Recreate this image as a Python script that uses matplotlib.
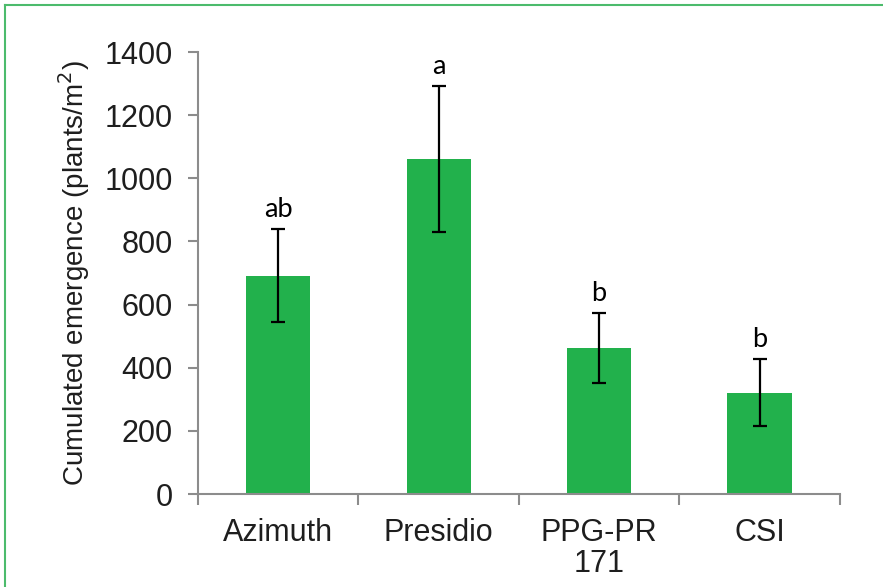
import matplotlib.pyplot as plt
from matplotlib.lines import Line2D

categories = ['Azimuth', 'Presidio', 'PPG-PR\n171', 'CSI']
emergence = [692, 1061, 463, 321]
errors = [146, 232, 110, 106]
letters = ['ab', 'a', 'b', 'b']

BAR = '#22b14c'
AXIS = '#8c8c8c'
TXT = '#1e1e1e'

plt.rcParams['font.family'] = ['Liberation Sans', 'DejaVu Sans']

fig = plt.figure(figsize=(8.83, 5.87), dpi=100)
ax = fig.add_axes([0.2242, 0.1584, 0.951 - 0.2242, 0.9114 - 0.1584])

x = range(len(categories))
ax.bar(x, emergence, width=0.4, color=BAR, zorder=2)
ax.errorbar(x, emergence, yerr=errors, fmt='none', ecolor='black',
            elinewidth=1.6, capsize=5, capthick=1.6, zorder=3)

for i, (v, e, t) in enumerate(zip(emergence, errors, letters)):
    ax.annotate(t, (i, v + e), xytext=(0, 5), textcoords='offset points',
                ha='center', va='bottom', fontsize=19.5, color='black',
                family=['Lato', 'DejaVu Sans'])

ax.set_xlim(-0.5, len(categories) - 0.5)
ax.set_ylim(0, 1400)
ax.set_yticks(range(0, 1401, 200))
ax.set_xticks(list(x))
ax.set_xticklabels(categories, fontsize=22, color=TXT, linespacing=1.05)
ax.set_xticks([i - 0.5 for i in range(len(categories) + 1)], minor=True)
ax.tick_params(axis='x', which='major', length=0, pad=17)
ax.tick_params(axis='x', which='minor', length=8, width=1.5, color=AXIS, direction='out')
ax.tick_params(axis='y', length=7, width=1.5, color=AXIS, labelsize=22,
               labelcolor=TXT, pad=11)

for s in ['top', 'right']:
    ax.spines[s].set_visible(False)
for s in ['left', 'bottom']:
    ax.spines[s].set_color(AXIS)
    ax.spines[s].set_linewidth(1.5)

ax.set_ylabel('Cumulated emergence (plants/m$^2$)', fontsize=20, color=TXT, labelpad=9)

# green frame (cropped: only top and left sides visible)
fig.add_artist(Line2D([5 / 883, 1], [1 - 5 / 587] * 2, color='#4cbb6c', lw=1.5,
                      transform=fig.transFigure))
fig.add_artist(Line2D([5 / 883] * 2, [0, 1 - 5 / 587], color='#4cbb6c', lw=1.5,
                      transform=fig.transFigure))

fig.savefig('out.png', dpi=100)
